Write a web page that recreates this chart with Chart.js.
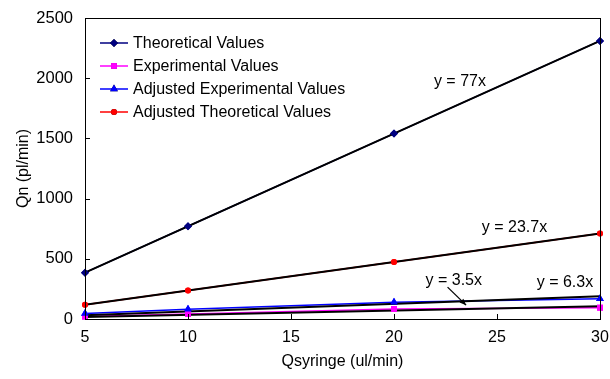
<!DOCTYPE html>
<html>
<head>
<meta charset="utf-8">
<script src="https://cdn.jsdelivr.net/npm/chart.js@4/dist/chart.umd.min.js"></script>
<style>
  html, body { margin: 0; padding: 0; background: #fff; }
  #wrap { width: 610px; height: 379px; }
</style>
</head>
<body>
<div id="wrap"><canvas id="chart"></canvas></div>
<script>
// data
const xValues = [5, 10, 20, 30];
const theoretical = [385, 770, 1540, 2310];
const experimental = [20, 42, 83, 94];
const adjustedExperimental = [45, 82, 140, 168];
const adjustedTheoretical = [118.5, 237, 474, 711];

// trendline end points (x = 5 and x = 30)
const trendX = [5, 30];
const trend77 = [385, 2310];
const trend237 = [118.5, 711];
const trend35 = [17.5, 105];
const trend63 = [31.5, 189];

const xTicks = [5, 10, 15, 20, 25, 30];
const yTicks = [0, 500, 1000, 1500, 2000, 2500];

const seriesNames = ["Theoretical Values", "Experimental Values", "Adjusted Experimental Values", "Adjusted Theoretical Values"];
const trendLabels = ["y = 77x", "y = 23.7x", "y = 3.5x", "y = 6.3x"];

const FONT = "'Liberation Sans', Arial, sans-serif";

function points(xs, ys) {
    return xs.map((x, i) => ({ x: x, y: ys[i] }));
}

function series(label, ys, color, style, radius) {
    return {
        label: label,
        data: points(xValues, ys),
        borderColor: color,
        backgroundColor: color,
        borderWidth: 1.5,
        pointStyle: style,
        pointRadius: radius,
        pointHoverRadius: radius,
        pointBorderWidth: 0,
        order: 2,
        clip: false
    };
}

function trend(ys) {
    return {
        label: "trend",
        data: points(trendX, ys),
        borderColor: "#000",
        borderWidth: 2,
        pointRadius: 0,
        order: 1,
        clip: false
    };
}

const datasets = [
    series(seriesNames[0], theoretical, "#000080", "rectRot", 4),
    series(seriesNames[1], experimental, "#FF00FF", "rect", 4.2),
    series(seriesNames[2], adjustedExperimental, "#0000FF", "triangle", 4.5),
    series(seriesNames[3], adjustedTheoretical, "#FF0000", "circle", 3),
    trend(trend77),
    trend(trend237),
    trend(trend35),
    trend(trend63)
];

// label positions in data units
const trendLabelPos = [[23.2, 1968], [25.85, 756], [22.9, 316], [28.3, 299]];

const frame = {
    id: "frame",
    afterDatasetsDraw(chart) {
        // markers back on top of the trendlines
        for (let i = 0; i < seriesNames.length; i++) {
            chart.getDatasetMeta(i).data.forEach(pt => pt.draw(chart.ctx));
        }
    },
    afterDraw(chart) {
        const ctx = chart.ctx;
        const a = chart.chartArea;
        const xs = chart.scales.x;
        const ys = chart.scales.y;
        ctx.save();
        ctx.strokeStyle = "#000";
        ctx.lineWidth = 1;
        ctx.strokeRect(Math.round(a.left) + 0.5, Math.round(a.top) + 0.5,
            Math.round(a.right - a.left), Math.round(a.bottom - a.top));

        // inward tick marks
        ctx.beginPath();
        xTicks.forEach(v => {
            const px = Math.round(xs.getPixelForValue(v)) + 0.5;
            ctx.moveTo(px, a.bottom);
            ctx.lineTo(px, a.bottom - 5);
        });
        yTicks.forEach(v => {
            const py = Math.round(ys.getPixelForValue(v)) + 0.5;
            ctx.moveTo(a.left, py);
            ctx.lineTo(a.left + 5, py);
        });
        ctx.stroke();

        // trendline labels
        ctx.fillStyle = "#000";
        ctx.font = "16px " + FONT;
        ctx.textAlign = "center";
        ctx.textBaseline = "middle";
        trendLabels.forEach((t, i) => {
            const p = trendLabelPos[i];
            ctx.fillText(t, xs.getPixelForValue(p[0]), ys.getPixelForValue(p[1]));
        });

        // arrow from "y = 3.5x" to its line
        const x1 = xs.getPixelForValue(22.6), y1 = ys.getPixelForValue(265);
        const x2 = xs.getPixelForValue(23.5), y2 = ys.getPixelForValue(115);
        ctx.beginPath();
        ctx.moveTo(x1, y1);
        ctx.lineTo(x2, y2);
        ctx.lineWidth = 1.3;
        ctx.stroke();
        const ang = Math.atan2(y2 - y1, x2 - x1);
        ctx.beginPath();
        ctx.moveTo(x2, y2);
        ctx.lineTo(x2 - 7 * Math.cos(ang - 0.4), y2 - 7 * Math.sin(ang - 0.4));
        ctx.lineTo(x2 - 7 * Math.cos(ang + 0.4), y2 - 7 * Math.sin(ang + 0.4));
        ctx.closePath();
        ctx.fill();

        // legend
        ctx.textAlign = "left";
        seriesNames.forEach((name, i) => {
            const ds = chart.data.datasets[i];
            const y = 43 + i * 23;
            ctx.strokeStyle = ds.borderColor;
            ctx.lineWidth = 1.5;
            ctx.beginPath();
            ctx.moveTo(100, y);
            ctx.lineTo(128, y);
            ctx.stroke();
            Chart.helpers.drawPoint(ctx, {
                pointStyle: ds.pointStyle,
                radius: ds.pointRadius,
                rotation: 0,
                borderWidth: 0
            }, 114, y);
            ctx.fillStyle = ds.borderColor;
            ctx.fill();
            ctx.fillStyle = "#000";
            ctx.fillText(name, 133, y + 1);
        });
        ctx.restore();
    }
};

new Chart(document.getElementById("chart"), {
    type: "line",
    data: { datasets: datasets },
    options: {
        responsive: true,
        maintainAspectRatio: false,
        animation: false,
        events: [],
        layout: { padding: { top: 18, right: 10, left: 0, bottom: 0 } },
        plugins: {
            legend: { display: false },
            tooltip: { enabled: false }
        },
        scales: {
            x: {
                type: "linear",
                min: 5,
                max: 30,
                afterBuildTicks: s => { s.ticks = xTicks.map(v => ({ value: v })); },
                afterFit: s => { s.height = 60; s.paddingRight = 0; s.paddingLeft = 0; },
                grid: { display: false, drawTicks: false },
                border: { display: true, color: "#000", width: 1 },
                ticks: { color: "#000", padding: 9, maxRotation: 0, font: { family: FONT, size: 16 }, callback: v => String(v) },
                title: {
                    display: true,
                    text: "Qsyringe (ul/min)",
                    color: "#000",
                    font: { family: FONT, size: 16 },
                    padding: { top: 4, bottom: 7.4 }
                }
            },
            y: {
                min: 0,
                max: 2500,
                afterBuildTicks: s => { s.ticks = yTicks.map(v => ({ value: v })); },
                afterFit: s => { s.width = 85; s.paddingTop = 0; s.paddingBottom = 0; },
                grid: { display: false, drawTicks: false },
                border: { display: true, color: "#000", width: 1 },
                ticks: { color: "#000", padding: 12, font: { family: FONT, size: 16.5 }, callback: v => String(v) },
                title: {
                    display: true,
                    text: "Qn (pl/min)",
                    color: "#000",
                    font: { family: FONT, size: 16 },
                    padding: { top: 14, bottom: 4 }
                }
            }
        }
    },
    plugins: [frame]
});
</script>
</body>
</html>
